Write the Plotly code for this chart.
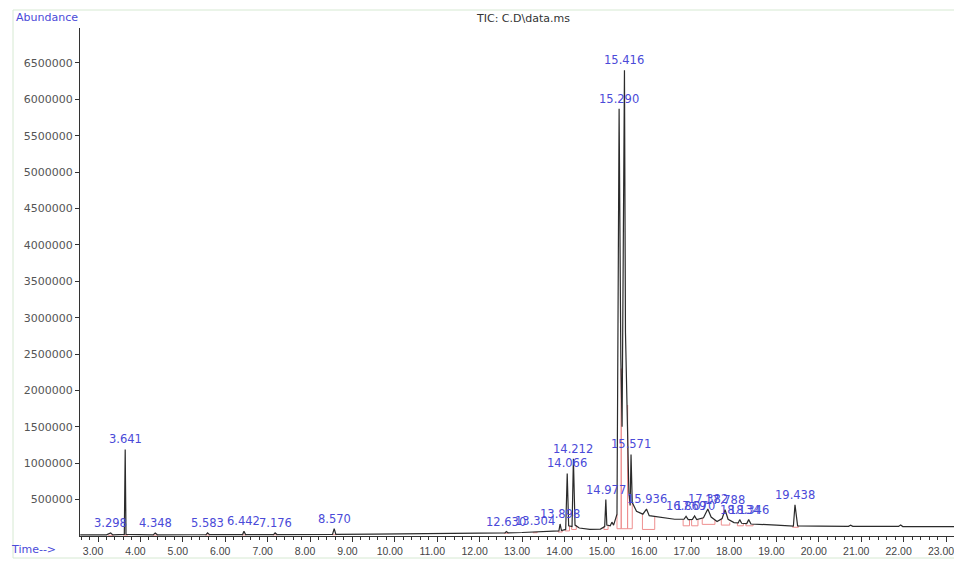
import plotly.graph_objects as go

# ---------------- data ----------------
# TIC trace vertices (time in min, abundance)
trace_t = [2.58, 3.20, 3.298, 3.35, 3.62, 3.641, 3.66, 4.00, 4.30, 4.348, 4.40, 5.20, 5.55, 5.583, 5.63,
           6.30, 6.41, 6.442, 6.48, 7.14, 7.176, 7.22, 8.00, 8.53, 8.570, 8.61, 9.50, 10.50, 11.50, 12.20,
           12.60, 12.630, 12.67, 13.00, 13.27, 13.304, 13.34, 13.70, 13.87, 13.898, 13.93, 14.03, 14.066,
           14.10, 14.18, 14.212, 14.25, 14.35, 14.60, 14.85, 14.95, 14.977, 15.00, 15.08, 15.12, 15.16,
           15.24, 15.290, 15.33, 15.36, 15.416, 15.44, 15.47, 15.52, 15.55, 15.571, 15.60, 15.70, 15.85,
           15.936, 16.00, 16.30, 16.60, 16.82, 16.869, 16.92, 17.02, 17.070, 17.12, 17.28, 17.382, 17.46,
           17.60, 17.72, 17.788, 17.86, 18.00, 18.10, 18.134, 18.18, 18.30, 18.346, 18.40, 19.00, 19.40,
           19.438, 19.50, 20.00, 20.70, 20.75, 20.80, 21.88, 21.93, 21.98, 23.40]
trace_a = [15000, 15000, 42000, 15000, 22000, 1190000, 22000, 16000, 16000, 40000, 16000, 17000, 18000,
           42000, 18000, 20000, 20000, 65000, 20000, 20000, 42000, 20000, 22000, 22000, 100000, 22000,
           25000, 28000, 32000, 38000, 42000, 60000, 44000, 48000, 52000, 62000, 54000, 60000, 70000,
           165000, 75000, 90000, 860000, 140000, 130000, 1060000, 150000, 110000, 90000, 95000, 130000,
           500000, 150000, 140000, 190000, 150000, 300000, 5870000, 2450000, 1500000, 6400000, 2800000,
           2000000, 600000, 420000, 1120000, 460000, 340000, 300000, 370000, 280000, 255000, 230000,
           230000, 270000, 225000, 228000, 275000, 225000, 250000, 370000, 260000, 200000, 240000, 360000,
           230000, 185000, 180000, 225000, 175000, 170000, 225000, 165000, 150000, 135000, 430000, 140000,
           135000, 132000, 148000, 132000, 132000, 150000, 130000, 128000]

# labelled peaks: retention time and apex abundance
peak_rt = [3.298, 3.641, 4.348, 5.583, 6.442, 7.176, 8.570, 12.630, 13.304, 13.898, 14.066, 14.212,
           14.977, 15.290, 15.416, 15.571, 15.936, 16.869, 17.070, 17.382, 17.788, 18.134, 18.346, 19.438]
peak_a = [42000, 1190000, 40000, 42000, 65000, 42000, 100000, 60000, 62000, 165000, 860000, 1060000,
          500000, 5870000, 6400000, 1120000, 370000, 270000, 275000, 370000, 360000, 225000, 225000, 430000]

# integration events: start/end time, baseline level, trace level at start/end
int_t0 = [3.24, 3.60, 4.30, 5.53, 6.39, 7.12, 8.52, 12.58, 13.26, 13.85, 14.02, 14.17, 14.93, 15.24,
          15.34, 15.49, 15.84, 16.80, 17.00, 17.25, 17.70, 18.08, 18.28, 19.38]
int_t1 = [3.36, 3.70, 4.40, 5.64, 6.50, 7.23, 8.63, 12.68, 13.36, 13.95, 14.12, 14.28, 15.03, 15.34,
          15.49, 15.60, 16.13, 16.95, 17.15, 17.55, 17.90, 18.22, 18.45, 19.52]
int_b0 = [10000, 12000, 12000, 14000, 15000, 16000, 18000, 38000, 45000, 55000, 70000, 90000, 90000,
          100000, 100000, 100000, 90000, 140000, 140000, 160000, 150000, 140000, 140000, 120000]
int_b1 = [10000, 12000, 12000, 14000, 15000, 16000, 18000, 38000, 45000, 55000, 70000, 90000, 90000,
          100000, 100000, 100000, 90000, 140000, 140000, 160000, 150000, 140000, 140000, 120000]
int_h0 = [15000, 22000, 16000, 18000, 20000, 20000, 22000, 42000, 52000, 70000, 90000, 130000, 130000,
          300000, 2300000, 1800000, 300000, 230000, 228000, 250000, 240000, 180000, 170000, 135000]
int_h1 = [15000, 22000, 16000, 18000, 20000, 20000, 22000, 44000, 54000, 75000, 140000, 150000, 150000,
          2300000, 1800000, 460000, 270000, 225000, 225000, 220000, 185000, 175000, 165000, 140000]

y_ticks = [500000, 1000000, 1500000, 2000000, 2500000, 3000000, 3500000,
           4000000, 4500000, 5000000, 5500000, 6000000, 6500000]
x_ticks = [3, 4, 5, 6, 7, 8, 9, 10, 11, 12, 13, 14, 15, 16, 17, 18, 19, 20, 21, 22, 23]

# ---------------- figure ----------------
BLUE = "#4a4ad8"
OFF = 8  # page body margin of the html page
fig = go.Figure()

# red integration marks
rx, ry = [], []
for t0, t1, b0, b1, h0, h1 in zip(int_t0, int_t1, int_b0, int_b1, int_h0, int_h1):
    rx += [t0, t0, t1, t1, None]
    ry += [h0, b0, b1, h1, None]
fig.add_trace(go.Scatter(x=rx, y=ry, mode="lines", line=dict(color="#ee8f8f", width=1),
                         hoverinfo="skip", showlegend=False))

fig.add_trace(go.Scatter(x=trace_t, y=trace_a, mode="lines",
                         line=dict(color="#2b2b2b", width=1.2), showlegend=False))

annotations = []
for rt, a in zip(peak_rt, peak_a):
    annotations.append(dict(x=rt, y=a, xref="x", yref="y", text=f"{rt:.3f}", showarrow=False,
                            yanchor="bottom", yshift=1,
                            font=dict(family="DejaVu Sans", size=11.5, color=BLUE)))

# plot area in screen px of the reference
PLOT_L, PLOT_T, PLOT_B, PLOT_R = 80, 28, 536, 962
PH = PLOT_B - PLOT_T
PW = PLOT_R - PLOT_L


def px(x):
    return (x - PLOT_L) / PW


def py(y):
    return (PLOT_B - y) / PH


annotations.append(dict(xref="paper", yref="paper", x=px(523), y=py(18),
                        text="TIC: C.D\\data.ms", showarrow=False, yanchor="middle",
                        font=dict(family="DejaVu Sans", size=11, color="#333333")))
annotations.append(dict(xref="paper", yref="paper", x=px(47), y=py(17),
                        text="Abundance", showarrow=False, yanchor="middle", xanchor="center",
                        font=dict(family="DejaVu Sans", size=11, color=BLUE)))
annotations.append(dict(xref="paper", yref="paper", x=px(33), y=py(549),
                        text="Time-->", showarrow=False, yanchor="middle", xanchor="center",
                        font=dict(family="DejaVu Sans", size=11, color=BLUE)))

fig.update_layout(
    width=962, height=562,
    margin=dict(l=PLOT_L - OFF, r=962 - PLOT_R + OFF, t=PLOT_T - OFF, b=562 - PLOT_B + OFF),
    paper_bgcolor="white", plot_bgcolor="white",
    annotations=annotations,
    shapes=[dict(type="rect", xref="paper", yref="paper",
                 x0=px(13), x1=px(990), y0=py(558), y1=py(10),
                 line=dict(color="#d6e9d2", width=1), layer="below")],
    xaxis=dict(range=[2.575, 23.377], tickvals=x_ticks, ticktext=[f"{v:.2f}" for v in x_ticks],
               ticks="outside", ticklen=5, tickcolor="#333", showline=True, linecolor="#333",
               linewidth=1, showgrid=False, zeroline=False, ticklabelshift=-5,
               minor=dict(dtick=0.2, tick0=3, ticks="outside", ticklen=3, tickcolor="#333", showgrid=False),
               tickfont=dict(family="Liberation Sans", size=10.5, color="#444")),
    yaxis=dict(range=[0, 6.98e6], tickvals=y_ticks, ticktext=[str(v) for v in y_ticks],
               ticks="outside", ticklen=4, tickcolor="#333", showline=True, linecolor="#333",
               linewidth=1, showgrid=False, zeroline=False,
               tickfont=dict(family="DejaVu Sans", size=11, color="#555")),
)

fig.write_html("out.html")
